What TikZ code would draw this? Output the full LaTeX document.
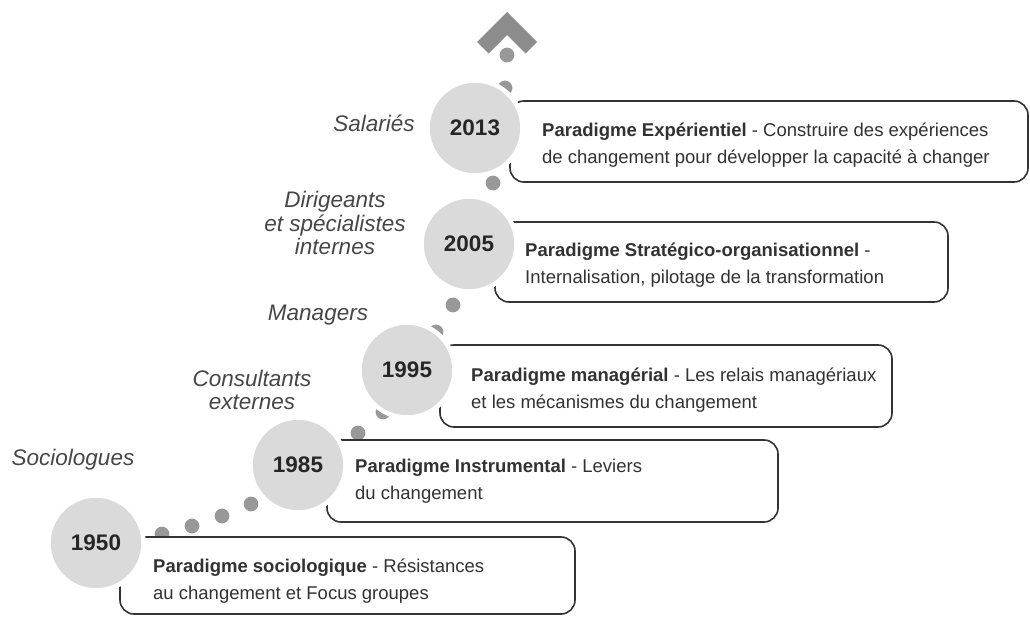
\documentclass[tikz,border=0pt]{standalone}
\usepackage{fontspec}
\setmainfont{Liberation Sans}
\usepackage{xcolor}
\usepackage{tikz}
\usetikzlibrary{positioning}
\definecolor{discgray}{RGB}{218, 218, 218}
\definecolor{trailgray}{RGB}{152, 152, 152}
\definecolor{arrowgray}{RGB}{140, 140, 140}
\definecolor{textgray}{RGB}{50, 50, 50}
\definecolor{labelgray}{RGB}{70, 70, 70}

\begin{document}
\begin{tikzpicture}[x=1pt, y=-1pt,
        yearcircle/.style={circle, fill=discgray, draw=white, line width=4.5pt, minimum size=95pt, inner sep=0pt, text=black!85, font=\fontsize{22.5}{22.5}\selectfont\bfseries},
        parabox/.style={rectangle, draw=black!80, line width=1.6pt, rounded corners=14pt, fill=white},
        paratext/.style={anchor=west, align=left, inner sep=0pt, text=textgray, font=\fontsize{18.5}{26.5}\selectfont},
        actor/.style={align=center, inner sep=0pt, text=labelgray, font=\fontsize{22.5}{23.5}\selectfont\itshape},
        trail/.style={fill=trailgray}
    ]
        \useasboundingbox (0,0) rectangle (1030,617);

        % Dotted trail
        \foreach \px/\py in {162/534, 192/526, 222/516, 251/504, 358/433, 383/412,
                             436/332, 453/305, 493/183, 505/88, 507/55}
            \fill[trail] (\px,\py) circle (7.4pt);

        % Paradigm boxes
        \node[parabox, minimum width=455pt, minimum height=77pt] (box1950) at (347.5,575.5) {};
        \node[parabox, minimum width=451pt, minimum height=82pt] (box1985) at (552.5,481) {};
        \node[parabox, minimum width=452pt, minimum height=82pt] (box1995) at (666,386) {};
        \node[parabox, minimum width=453pt, minimum height=80pt] (box2005) at (721.5,262) {};
        \node[parabox, minimum width=518pt, minimum height=81pt] (box2013) at (769,141.5) {};

        % Years
        \node[yearcircle] (y1950) at (96,543) {1950};
        \node[yearcircle] (y1985) at (298,465) {1985};
        \node[yearcircle] (y1995) at (407,370) {1995};
        \node[yearcircle] (y2005) at (469,244) {2005};
        \node[yearcircle] (y2013) at (475,128) {2013};

        % Actors
        \node[actor] (sociologues) at (73,460) {Sociologues};
        \node[actor] (consultants) at (252,390) {Consultants\\externes};
        \node[actor] (managers) at (318,315) {Managers};
        \node[actor] (dirigeants) at (335,223) {Dirigeants\\et spécialistes\\internes};
        \node[actor] (salaries) at (374,123) {Salariés};

        % Paradigms
        \node[paratext] (p1950) at (153,581) {\textbf{Paradigme sociologique} - Résistances\\au changement et Focus groupes};
        \node[paratext] (p1985) at (355,481) {\textbf{Paradigme Instrumental} - Leviers\\du changement};
        \node[paratext] (p1995) at (471,390) {\textbf{Paradigme managérial} - Les relais managériaux\\et les mécanismes du changement};
        \node[paratext] (p2005) at (525,265) {\textbf{Paradigme Stratégico-organisationnel} -\\Internalisation, pilotage de la transformation};
        \node[paratext] (p2013) at (542,145) {\textbf{Paradigme Expérientiel} - Construire des expériences\\de changement pour développer la capacité à changer};

        % Arrow head
        \fill[arrowgray] (507,12) -- (537,42) -- (525.5,53.5) -- (507,35) -- (488.5,53.5) -- (477,42) -- cycle;
\end{tikzpicture}
\end{document}
